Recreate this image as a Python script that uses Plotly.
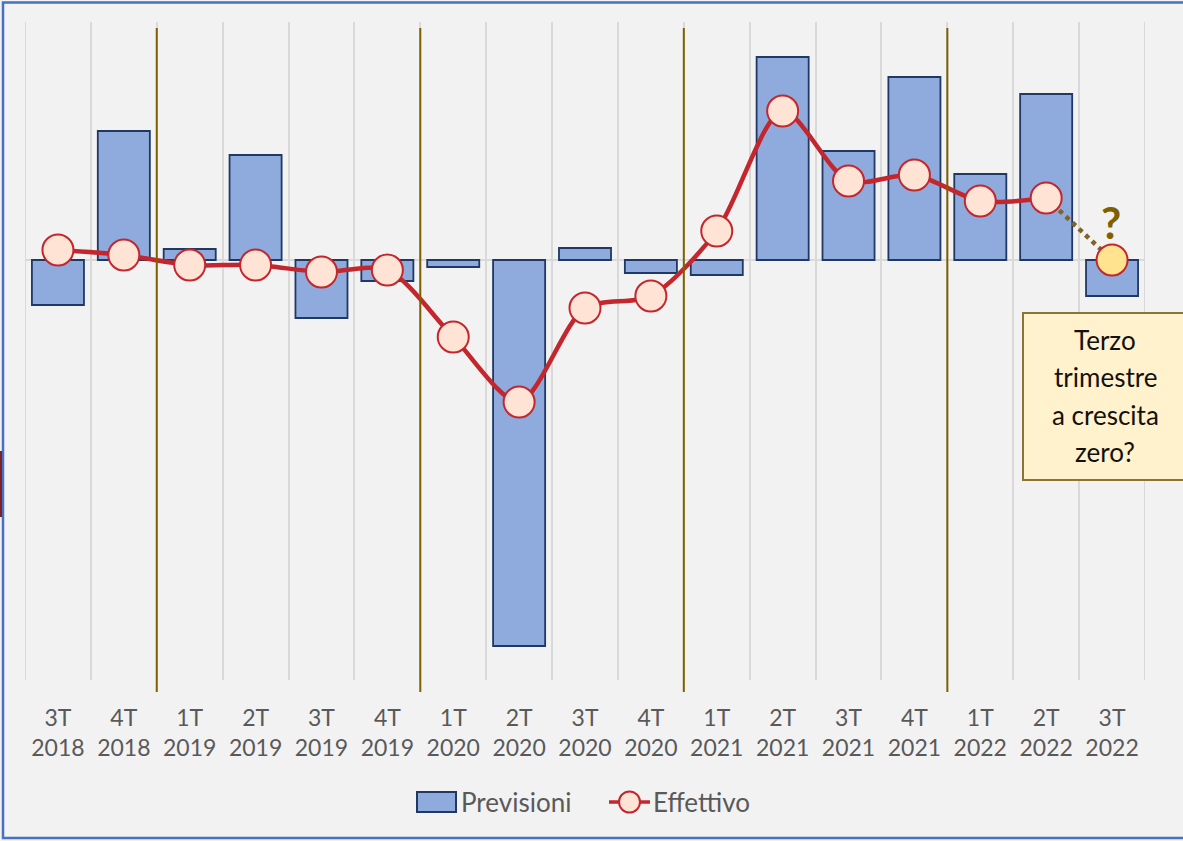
import plotly.graph_objects as go

# ---- data (arbitrary units) ----
quarters = ["3T", "4T", "1T", "2T", "3T", "4T", "1T", "2T", "3T", "4T",
            "1T", "2T", "3T", "4T", "1T", "2T", "3T"]
years = ["2018", "2018", "2019", "2019", "2019", "2019", "2020", "2020", "2020", "2020",
         "2021", "2021", "2021", "2021", "2022", "2022", "2022"]
previsioni = [-4.5, 12.9, 1.1, 10.5, -5.8, -2.1, -0.7, -38.6, 1.2, -1.3,
              -1.5, 20.3, 10.9, 18.3, 8.6, 16.6, -3.6]
effettivo = [1.0, 0.5, -0.5, -0.5, -1.2, -1.0, -7.7, -14.2, -4.8, -3.6,
             2.9, 14.9, 7.9, 8.5, 5.9, 6.2]
ipotesi_3t2022 = 0.0
year_breaks = [1.5, 5.5, 9.5, 13.5]
box_lines = ["Terzo", "trimestre", "a crescita", "zero?"]
legend_names = ["Previsioni", "Effettivo"]

labels = [f"{q}<br>{y}" for q, y in zip(quarters, years)]
idx = list(range(len(labels)))

# ---- geometry helpers (pixels -> paper) ----
W, H = 1183, 841
L, R, T, B = 25, 1145, 22, 680
def px(x):
    return (x - L) / (R - L)
def py(y):
    return (B - y) / (B - T)

FONT = "Lato"
GRAY = "#595959"
RED = "#C4262E"
BAR_FILL = "#8FAADC"
BAR_LINE = "#1F3864"
PEACH = "#FFE4D6"
GRID = "#D9D9D9"

fig = go.Figure()
fig.add_trace(go.Bar(
    x=idx, y=previsioni, name=legend_names[0], width=0.79, showlegend=False,
    marker=dict(color=BAR_FILL, line=dict(color=BAR_LINE, width=1.8)),
))
# dotted connector to the hypothetical point
fig.add_trace(go.Scatter(
    x=[idx[-2], idx[-1]], y=[effettivo[-1], ipotesi_3t2022], mode="lines",
    line=dict(color="#7F6427", width=4.5, dash="dot"), showlegend=False,
))
fig.add_trace(go.Scatter(
    x=idx[:len(effettivo)], y=effettivo, name=legend_names[1], mode="lines+markers",
    showlegend=False,
    line=dict(color=RED, width=4.5, shape="spline", smoothing=0.8),
    marker=dict(size=31, color=PEACH, line=dict(color=RED, width=2)),
))
fig.add_trace(go.Scatter(
    x=[idx[-1]], y=[ipotesi_3t2022], mode="markers", showlegend=False,
    marker=dict(size=31, color="#FFE38F", line=dict(color=RED, width=2)),
))

shapes = []
# edge gridlines (range boundaries)
for xe in (-0.5, 16.5):
    shapes.append(dict(type="line", xref="x", yref="paper", x0=xe, x1=xe, y0=0, y1=1,
                       layer="below", line=dict(color=GRID, width=2)))
for xb in year_breaks:
    shapes.append(dict(type="line", xref="x", yref="paper", x0=xb, x1=xb,
                       y0=py(692), y1=py(28), line=dict(color="#7F6000", width=2)))
# annotation box
shapes.append(dict(type="rect", xref="paper", yref="paper",
                   x0=px(1023), x1=px(1300), y0=py(480), y1=py(313),
                   fillcolor="#FFF2CC", line=dict(color="#8C7436", width=2)))
# outer blue border
shapes.append(dict(type="rect", xref="paper", yref="paper",
                   x0=px(3), x1=px(1300), y0=py(838), y1=py(2.5),
                   line=dict(color="#4472C4", width=2.5)))
# small dark red mark at left edge
shapes.append(dict(type="rect", xref="paper", yref="paper",
                   x0=px(-2), x1=px(2), y0=py(517), y1=py(451),
                   fillcolor="#7B1F2A", line=dict(width=0)))
# custom legend symbols
shapes.append(dict(type="rect", xref="paper", yref="paper",
                   x0=px(417), x1=px(456), y0=py(812), y1=py(792),
                   fillcolor=BAR_FILL, line=dict(color=BAR_LINE, width=2)))
shapes.append(dict(type="line", xref="paper", yref="paper",
                   x0=px(609), x1=px(650), y0=py(802), y1=py(802),
                   line=dict(color=RED, width=3.5)))
shapes.append(dict(type="circle", xref="paper", yref="paper",
                   x0=px(619), x1=px(640), y0=py(812.5), y1=py(791.5),
                   fillcolor=PEACH, line=dict(color=RED, width=2)))

annotations = [dict(x=idx[-1], y=ipotesi_3t2022, xref="x", yref="y", text="<b>?</b>",
                    showarrow=False, yshift=38, xshift=-1,
                    font=dict(family=FONT, size=44, color="#7F6000"))]
for i, t in enumerate(box_lines):
    annotations.append(dict(x=px(1105), y=py(340 + i * 37.3), xref="paper", yref="paper",
                            text=t, showarrow=False, xanchor="center", yanchor="middle",
                            font=dict(family=FONT, size=26, color="#111111")))
annotations.append(dict(x=px(459), y=py(802), xref="paper", yref="paper", text=legend_names[0],
                        showarrow=False, xanchor="left", yanchor="middle",
                        font=dict(family=FONT, size=26, color=GRAY)))
annotations.append(dict(x=px(651), y=py(802), xref="paper", yref="paper", text=legend_names[1],
                        showarrow=False, xanchor="left", yanchor="middle",
                        font=dict(family=FONT, size=26, color=GRAY)))

fig.update_layout(
    width=W, height=H,
    margin=dict(l=L, r=W - R, t=T, b=H - B),
    paper_bgcolor="#F2F2F2", plot_bgcolor="#F2F2F2",
    font=dict(family=FONT, color=GRAY),
    barmode="overlay",
    showlegend=False,
    xaxis=dict(range=[-0.5, 16.5], tickvals=idx, ticktext=labels, showgrid=False,
               zeroline=False, showline=False, ticks="", ticklabelstandoff=22,
               tickfont=dict(family=FONT, size=23, color=GRAY),
               minor=dict(tickvals=[i - 0.5 for i in range(len(idx) + 1)], showgrid=True,
                          gridcolor=GRID, gridwidth=2, ticks="")),
    yaxis=dict(range=[-42, 23.8], showgrid=False, showticklabels=False,
               zeroline=True, zerolinecolor=GRID, zerolinewidth=2),
    shapes=shapes, annotations=annotations,
)
fig.write_html("out.html", config={"displayModeBar": False},
               post_script="document.body.style.margin='0';")
